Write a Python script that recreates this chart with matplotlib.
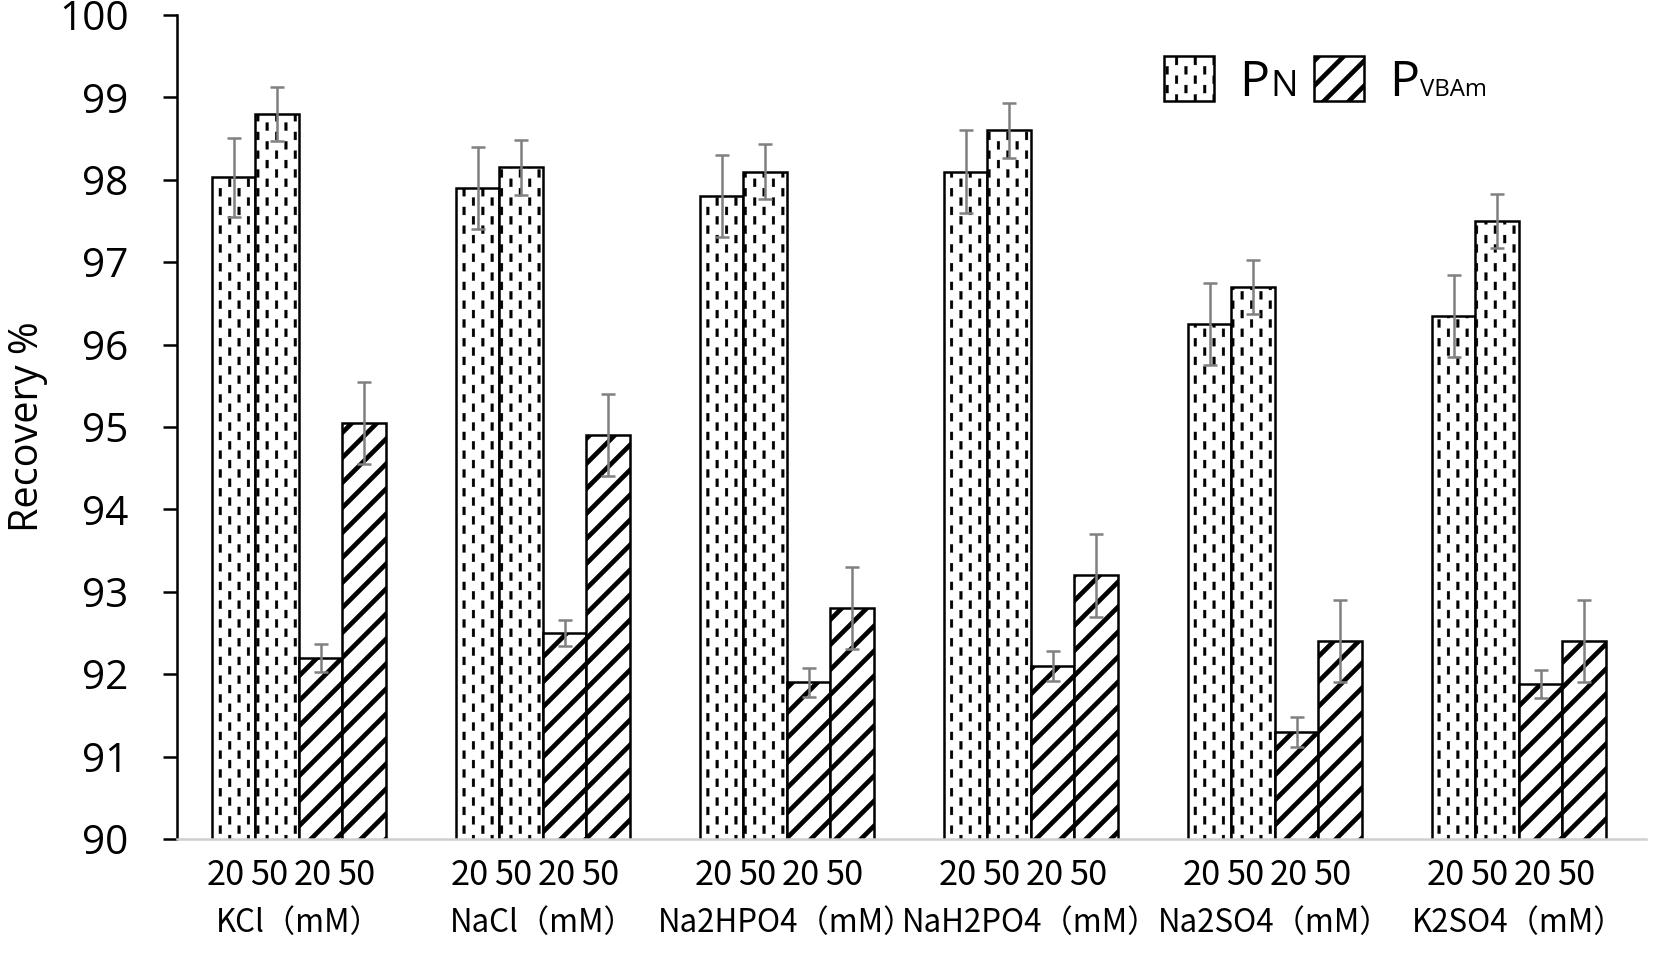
import warnings
import matplotlib
matplotlib.use('Agg')
import matplotlib.pyplot as plt
import matplotlib.hatch as mhatch
import matplotlib.transforms as mtransforms
from matplotlib.path import Path
import numpy as np

warnings.filterwarnings('ignore')

# data
groups = ['KCl（mM）', 'NaCl（mM）', 'Na2HPO4（mM）', 'NaH2PO4（mM）', 'Na2SO4（mM）', 'K2SO4（mM）']
conc_labels = ['20', '50', '20', '50']

pn_20 = [98.03, 97.9, 97.8, 98.1, 96.25, 96.35]
pn_50 = [98.8, 98.15, 98.1, 98.6, 96.7, 97.5]
pv_20 = [92.2, 92.5, 91.9, 92.1, 91.3, 91.88]
pv_50 = [95.05, 94.9, 92.8, 93.2, 92.4, 92.4]

pn_20_err = [0.48, 0.5, 0.5, 0.5, 0.5, 0.5]
pn_50_err = [0.33, 0.33, 0.33, 0.33, 0.33, 0.33]
pv_20_err = [0.17, 0.16, 0.18, 0.18, 0.18, 0.17]
pv_50_err = [0.5, 0.5, 0.5, 0.5, 0.5, 0.5]


# short vertical dashes, staggered columns (the Excel "dotted" fill)
class VDashes(mhatch.HatchPatternBase):
    def __init__(self, hatch, density):
        self.n = 8 if ':' in hatch else 0
        self.num_vertices = self.n * (self.n // 2) * 5

    def set_vertices_and_codes(self, vertices, codes):
        n = self.n
        w, h = 0.018, 0.053
        rect = np.array([[-w, -h], [w, -h], [w, h], [-w, h], [-w, -h]])
        rcodes = [Path.MOVETO, Path.LINETO, Path.LINETO, Path.LINETO, Path.CLOSEPOLY]
        parts, cparts = [], []
        for j in range(n):
            x = (j + 0.5) / n
            for m in range(n // 2):
                y = (m + 0.25 + 0.5 * (j % 2)) * 2 / n
                parts.append(rect + [x, y])
                cparts.append(rcodes)
        vertices[:] = np.concatenate(parts)
        codes[:] = np.concatenate(cparts)


mhatch._hatch_types.append(VDashes)

num_font = 'Open Sans'
cjk_font = ['Noto Sans CJK JP', 'DejaVu Sans']

fig = plt.figure(figsize=(1654 / 75, 956 / 75), dpi=75)
ax = fig.add_axes([177 / 1654, 1 - 839 / 956, (1646 - 177) / 1654, (839 - 15) / 956])

pitch = 5.61
centers = np.arange(len(groups)) * pitch
offsets = [-1.5, -0.5, 0.5, 1.5]
series = [(pn_20, pn_20_err, ':', 0.3),
          (pn_50, pn_50_err, ':', 0.3),
          (pv_20, pv_20_err, '/', 4.5),
          (pv_50, pv_50_err, '/', 4.5)]

containers = []
for off, (vals, err, hatch, hlw) in zip(offsets, series):
    plt.rcParams['hatch.linewidth'] = hlw
    bars = ax.bar(centers + off, vals, width=1.0, color='white', edgecolor='black',
                  linewidth=2.4, hatch=hatch, zorder=2)
    for b in bars:
        if hasattr(b, 'set_hatch_linewidth'):
            b.set_hatch_linewidth(hlw)
    containers.append(bars)
    ax.errorbar(centers + off, vals, yerr=err, fmt='none', ecolor='#808080',
                elinewidth=2.4, capsize=6.5, capthick=2.4, zorder=3)

ax.set_ylim(90, 100)
ax.set_xlim(-2.8, centers[-1] + 2.92)
ax.set_yticks(np.arange(90, 101, 1))
ax.tick_params(axis='y', length=13.5, width=2.4, pad=33, labelsize=39)
for lab in ax.get_yticklabels():
    lab.set_family(num_font)

xt = np.concatenate([centers + o for o in offsets])
xl = [c for c in conc_labels for _ in groups]
ax.set_xticks(xt)
ax.set_xticklabels(xl, family=cjk_font, fontsize=33)
ax.tick_params(axis='x', length=0, pad=18)
shift = mtransforms.ScaledTranslation(-8 / 72, 0, fig.dpi_scale_trans)
for lab in ax.get_xticklabels():
    lab.set_transform(lab.get_transform() + shift)

trans = mtransforms.blended_transform_factory(ax.transData, ax.transAxes)
for c, g in zip(centers, groups):
    ax.text(c, -0.083, g, transform=trans, ha='center', va='top',
            family=cjk_font, fontsize=30)

ax.spines['top'].set_visible(False)
ax.spines['right'].set_visible(False)
ax.spines['left'].set_linewidth(2.4)
ax.spines['bottom'].set_color('#cfcfcf')
ax.spines['bottom'].set_linewidth(2.4)

ax.set_ylabel('Recovery %', family=num_font, fontsize=38)
ax.yaxis.set_label_coords(-0.088, 0.5)

leg = ax.legend([containers[0], containers[2]], ['P', 'P'], ncol=2, loc='upper left',
                bbox_to_anchor=(0.672, 0.95), frameon=False,
                prop={'family': num_font, 'size': 48},
                handlelength=1.0, handleheight=1.0, handletextpad=0.5,
                columnspacing=0.9, borderpad=0, borderaxespad=0)
for h, hlw in zip(leg.legend_handles, [0.3, 4.5]):
    if hasattr(h, 'set_hatch_linewidth'):
        h.set_hatch_linewidth(hlw)
for t, sub, size in zip(leg.get_texts(), ['N', 'VBAm'], [35, 23]):
    ax.annotate(sub, xy=(1, 0), xycoords=t, xytext=(1, 11.5), textcoords='offset points',
                ha='left', va='baseline', family=num_font, fontsize=size, zorder=6)

fig.savefig('out.png', dpi=75)
